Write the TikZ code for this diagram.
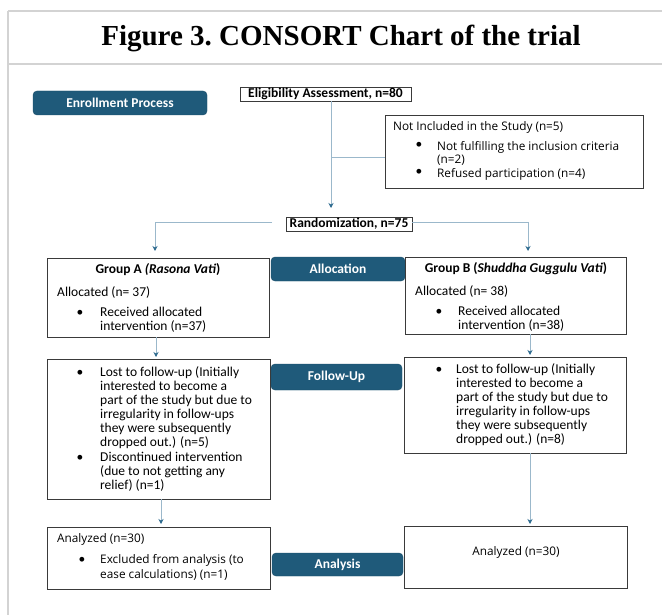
\documentclass[tikz,border=0pt]{standalone}
\usepackage{fontspec}
\setmainfont{Carlito}
\newfontfamily\titlefont{Liberation Serif}
\newfontfamily\aptfont{Open Sans}
\usetikzlibrary{arrows.meta,fit}
\definecolor{bluebox}{HTML}{1F5A7A}
\definecolor{linecol}{HTML}{9BB8CB}
\definecolor{tipcol}{HTML}{2D6B8F}
\definecolor{framecol}{HTML}{D3D3D3}
\definecolor{boxline}{HTML}{3A3A3A}
\begin{document}
\begin{tikzpicture}[x=1pt,y=-1pt,
  stagebox/.style={draw=bluebox!85!black, fill=bluebox, rounded corners=4pt, text=white,
    font=\bfseries\fontsize{13.5}{14}\selectfont, inner sep=0pt},
  infobox/.style={draw=boxline, line width=0.9pt, inner sep=0pt},
  lbl/.style={inner sep=0pt, anchor=north west, align=left, font=\fontsize{13.5}{14}\selectfont},
  albl/.style={inner sep=0pt, anchor=north west, align=left, font=\aptfont\fontsize{11.8}{13.5}\selectfont},
  flowline/.style={draw=linecol, line width=1pt},
  flow/.style={draw=linecol, line width=1pt, -{Stealth[length=5pt,width=5pt,color=tipcol]}},
]
\useasboundingbox (0,0) rectangle (662,615);
\fill[white] (0,0) rectangle (662,615);
% frame
\draw[framecol, line width=1.5pt] (8,11) -- (662,11);
\draw[framecol, line width=1.5pt] (8,64) -- (662,64);
\draw[framecol, line width=1.5pt] (8,11) -- (8,615);
\node[inner sep=0pt, font=\titlefont\bfseries\fontsize{29}{32}\selectfont] (title) at (341,38) {Figure 3.\ CONSORT Chart of the trial};

% stage boxes
\node[stagebox, minimum width=174pt, minimum height=24pt] (enr) at (120,103) {Enrollment Process};
\node[stagebox, minimum width=134pt, minimum height=24pt] (alloc) at (338,269) {Allocation};
\node[stagebox, minimum width=131pt, minimum height=26pt] (fup) at (336.5,377) {Follow-Up};
\node[stagebox, minimum width=131pt, minimum height=23pt] (anl) at (337.5,564.5) {Analysis};

% eligibility
\node[infobox, font=\bfseries\fontsize{13.5}{14}\selectfont, minimum width=171pt, minimum height=14pt] (elig) at (325.5,94) {Eligibility Assessment, n=80};

% exclusion
\node[infobox, minimum width=258pt, minimum height=73pt] (excl) at (514,151.5) {};
\node[albl] (exclt) at (393,121) {Not Included in the Study (n=5)};
\node[lbl, anchor=center] (exb1) at (419,145) {\textbullet};
\node[albl] (ex1) at (437,141) {Not fulfilling the inclusion criteria\\(n=2)};
\node[lbl, anchor=center] (exb2) at (419,172) {\textbullet};
\node[albl] (ex2) at (437,168) {Refused participation (n=4)};

% randomization
\node[infobox, font=\bfseries\fontsize{13.5}{14}\selectfont, minimum width=126pt, minimum height=14pt] (rand) at (349,224) {Randomization, n=75};

% group boxes
\node[infobox, minimum width=222pt, minimum height=79pt] (ga) at (158,297.5) {};
\node[inner sep=0pt, font=\bfseries\fontsize{13.5}{14}\selectfont] (gat) at (158,270) {Group A \textit{(Rasona Vati})};
\node[lbl] (gaa) at (57,286.5) {Allocated (n= 37)};
\node[lbl, anchor=center] (gab) at (80,313) {\textbullet};
\node[lbl] (gar) at (100,306.5) {Received allocated\\intervention (n=37)};

\node[infobox, minimum width=221pt, minimum height=77pt] (gb) at (515.5,295.5) {};
\node[inner sep=0pt, font=\bfseries\fontsize{13.5}{14}\selectfont] (gbt) at (516,269) {Group B (\textit{Shuddha Guggulu Vati})};
\node[lbl] (gba) at (415,285.5) {Allocated (n= 38)};
\node[lbl, anchor=center] (gbb) at (439,312) {\textbullet};
\node[lbl] (gbr) at (458,305.5) {Received allocated\\intervention (n=38)};

% follow-up boxes
\node[infobox, minimum width=223pt, minimum height=140pt] (fa) at (158.5,429) {};
\node[lbl, anchor=center] (fab1) at (80,373) {\textbullet};
\node[lbl] (fa1) at (100,366.5) {Lost to follow-up (Initially\\interested to become a\\part of the study but due to\\irregularity in follow-ups\\they were subsequently\\dropped out.) (n=5)};
\node[lbl, anchor=center] (fab2) at (80,458) {\textbullet};
\node[lbl] (fa2) at (100,451.5) {Discontinued intervention\\(due to not getting any\\relief) (n=1)};

\node[infobox, minimum width=222pt, minimum height=96pt] (fb) at (515,405) {};
\node[lbl, anchor=center] (fbb1) at (439,370) {\textbullet};
\node[lbl] (fb1) at (456,363.5) {Lost to follow-up (Initially\\interested to become a\\part of the study but due to\\irregularity in follow-ups\\they were subsequently\\dropped out.) (n=8)};

% analysis boxes
\node[infobox, minimum width=223pt, minimum height=62pt] (aa) at (158.5,558) {};
\node[albl] (aat) at (57,533) {Analyzed (n=30)};
\node[lbl, anchor=center] (aab) at (82,560) {\textbullet};
\node[albl, font=\aptfont\fontsize{11.8}{15}\selectfont] (aa1) at (100,554) {Excluded from analysis (to\\ease calculations) (n=1)};

\node[infobox, minimum width=223pt, minimum height=62pt] (ab) at (515.5,557.5) {};
\node[inner sep=0pt, font=\aptfont\fontsize{11.8}{13}\selectfont] (abt) at (516,552) {Analyzed (n=30)};

% connectors
\coordinate (etop) at (331,101);
\coordinate (ebr) at (331,158);
\coordinate (etip) at (331,208);
\draw[flow] (etop) -- (etip);
\draw[flowline] (ebr) -- (excl.west |- ebr);
\coordinate (rl) at (272,223);
\coordinate (lcorner) at (155,223);
\coordinate (ltip) at (155,251);
\draw[flow] (rl) -- (lcorner) -- (ltip);
\coordinate (rcorner) at (528,223);
\coordinate (rtip) at (528,251);
\draw[flow] (rand.east |- rl) -- (rcorner) -- (rtip);
\draw[flow] (ga.south -| 156,0) -- (156,357);
\draw[flow] (gb.south -| 530,0) -- (530,355);
\draw[flow] (fa.south -| 161,0) -- (161,524);
\draw[flow] (fb.south -| 530,0) -- (530,524);
\end{tikzpicture}
\end{document}
